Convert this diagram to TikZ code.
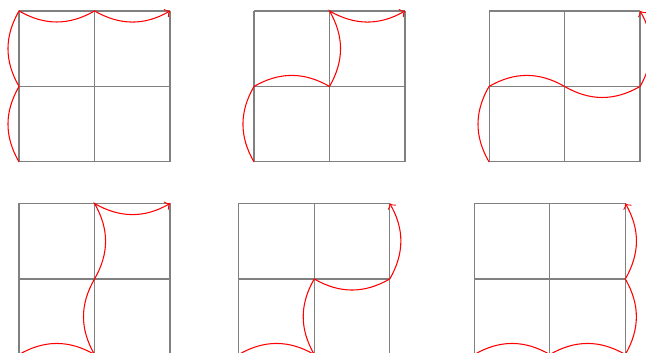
\documentclass[tikz,border=0pt]{standalone}
\usetikzlibrary{calc}
\begin{document}
\begin{tikzpicture}[
  gridlines/.style={gray},
  lattpath/.style={red,->},
  x=1cm,y=1cm]
\useasboundingbox (0,0) rectangle (8.556,4.675);
% helper: define lattice coordinates with a prefix
\foreach \pre/\ox/\oy in {A/0.252/2.530, B/3.364/2.530, C/6.477/2.530, D/0.252/-0.020, E/3.162/-0.020, F/6.282/-0.020}{
  \draw[gridlines,shift={(\ox,\oy)}] (0,0) grid (2,2);
  \foreach \i in {0,1,2}{
    \foreach \j in {0,1,2}{
      \coordinate (\pre\i\j) at ($(\ox,\oy)+(\i,\j)$);
    }
  }
}
% UURR
\draw[lattpath] (A00) to[bend left] (A01) to[bend left] (A02) to[bend right] (A12) to[bend right] (A22);
% URUR
\draw[lattpath] (B00) to[bend left] (B01) to[bend left] (B11) to[bend right] (B12) to[bend right] (B22);
% URRU
\draw[lattpath] (C00) to[bend left] (C01) to[bend left] (C11) to[bend right] (C21) to[bend right] (C22);
% RUUR
\draw[lattpath] (D00) to[bend left] (D10) to[bend left] (D11) to[bend right] (D12) to[bend right] (D22);
% RURU
\draw[lattpath] (E00) to[bend left] (E10) to[bend left] (E11) to[bend right] (E21) to[bend right] (E22);
% RRUU
\draw[lattpath] (F00) to[bend left] (F10) to[bend left] (F20) to[bend right] (F21) to[bend right] (F22);
\end{tikzpicture}
\end{document}
